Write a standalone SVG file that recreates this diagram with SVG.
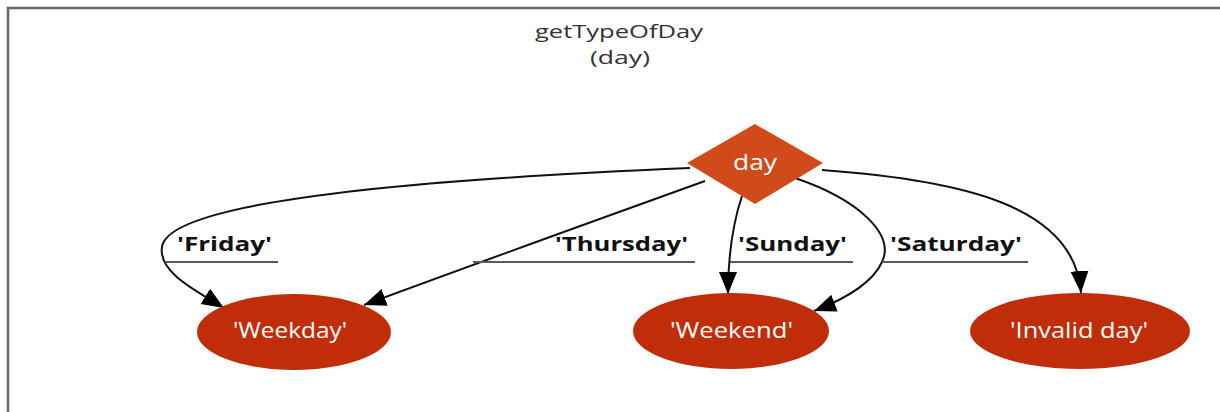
<svg xmlns="http://www.w3.org/2000/svg" width="1220" height="412" viewBox="0 0 1220 412">
  <style>
    .title { font-family: "Open Sans", "Liberation Sans", sans-serif; font-size: 19px; fill: #333; }
    .nodetext { font-family: "Open Sans", "Liberation Sans", sans-serif; font-size: 22px; fill: #fff; }
    .label { font-family: "Open Sans", "Liberation Sans", sans-serif; font-size: 20px; font-weight: bold; fill: #111; }
    .edge { fill: none; stroke: #111; stroke-width: 2; }
    .uline { stroke: #5a5a5a; stroke-width: 2.2; }
    .decision { fill: #d04a1a; }
    .result { fill: #bf2e08; }
  </style>
  <defs>
    <marker id="arrow" markerUnits="userSpaceOnUse" markerWidth="24" markerHeight="20" refX="22" refY="9" orient="auto">
      <path d="M0,0 L22,9 L0,18 Z" fill="#000"/>
    </marker>
  </defs>

  <rect width="1220" height="412" fill="#fff"/>
  <!-- frame -->
  <rect x="8" y="8" width="1300" height="500" fill="none" stroke="#6a6a6a" stroke-width="2.6"/>

  <!-- function title -->
  <g id="title">
    <text class="title" x="535" y="38" textLength="168" lengthAdjust="spacingAndGlyphs">getTypeOfDay</text>
    <text class="title" x="590" y="64" textLength="60" lengthAdjust="spacingAndGlyphs">(day)</text>
  </g>

  <!-- connectors -->
  <g id="connectors">
    <path class="edge" d="M690,168 C450,178 168,198 162,247 C158,272 195,290 224,308" marker-end="url(#arrow)"/>
    <path class="edge" d="M705,181 Q480,262 364,305" marker-end="url(#arrow)"/>
    <path class="edge" d="M742,196 C734,220 728,250 728,294" marker-end="url(#arrow)"/>
    <path class="edge" d="M795,178 C860,200 895,235 882,262 C874,280 850,297 814,311" marker-end="url(#arrow)"/>
    <path class="edge" d="M822,170 C960,180 1075,205 1081,293" marker-end="url(#arrow)"/>

    <g id="label-friday">
      <text class="label" x="177" y="251" textLength="95" lengthAdjust="spacingAndGlyphs">'Friday'</text>
      <line class="uline" x1="165" y1="262" x2="278" y2="262"/>
    </g>
    <g id="label-thursday">
      <text class="label" x="555" y="251" textLength="133" lengthAdjust="spacingAndGlyphs">'Thursday'</text>
      <line class="uline" x1="473" y1="262" x2="695" y2="262"/>
    </g>
    <g id="label-sunday">
      <text class="label" x="738" y="251" textLength="109" lengthAdjust="spacingAndGlyphs">'Sunday'</text>
      <line class="uline" x1="730" y1="262" x2="853" y2="262"/>
    </g>
    <g id="label-saturday">
      <text class="label" x="890" y="251" textLength="132" lengthAdjust="spacingAndGlyphs">'Saturday'</text>
      <line class="uline" x1="882" y1="262" x2="1028" y2="262"/>
    </g>
  </g>

  <!-- decision node -->
  <g id="node-day">
    <polygon class="decision" points="755,124 823,163 755,204 687,163"/>
    <text class="nodetext" x="733" y="170" textLength="44" lengthAdjust="spacingAndGlyphs">day</text>
  </g>

  <!-- result nodes -->
  <g id="node-weekday">
    <ellipse class="result" cx="294" cy="332" rx="97" ry="38"/>
    <text class="nodetext" x="233" y="338" textLength="114" lengthAdjust="spacingAndGlyphs">'Weekday'</text>
  </g>
  <g id="node-weekend">
    <ellipse class="result" cx="731" cy="331" rx="98" ry="38"/>
    <text class="nodetext" x="670" y="338" textLength="123" lengthAdjust="spacingAndGlyphs">'Weekend'</text>
  </g>
  <g id="node-invalid">
    <ellipse class="result" cx="1080" cy="331" rx="110" ry="38"/>
    <text class="nodetext" x="1010" y="338" textLength="138" lengthAdjust="spacingAndGlyphs">'Invalid day'</text>
  </g>
</svg>
